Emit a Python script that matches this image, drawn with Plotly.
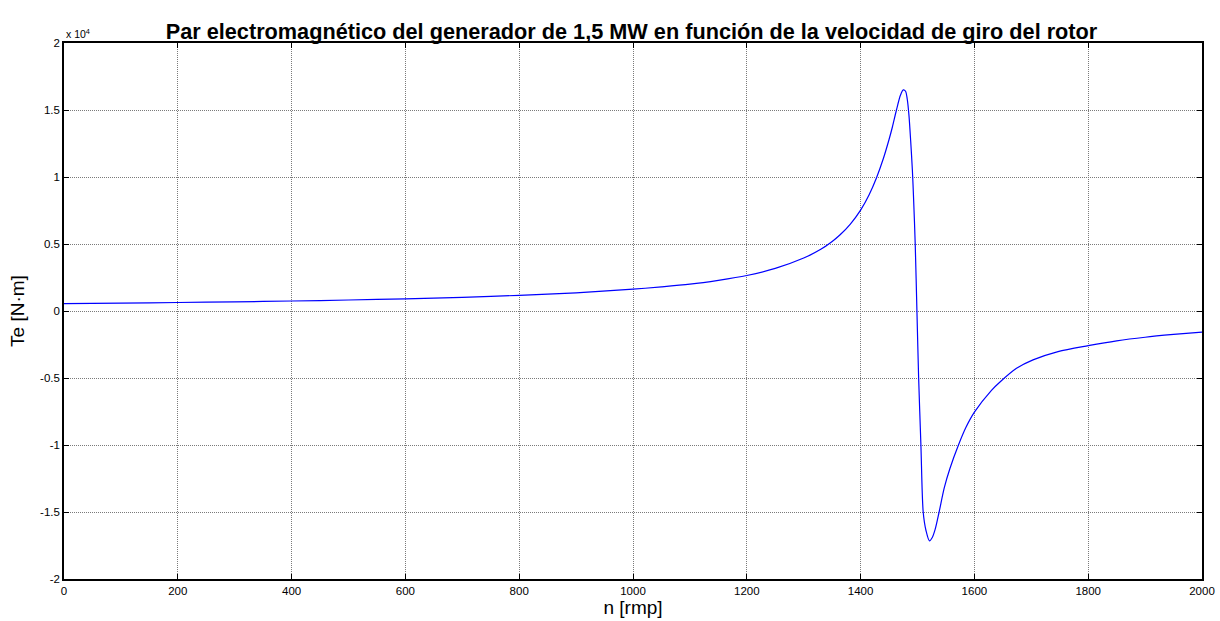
import plotly.graph_objects as go

# Rotor speed (rpm) and electromagnetic torque (N·m) of the 1.5 MW generator
n_rpm = [0, 100, 200, 300, 400, 500, 600, 700, 800, 900, 1000, 1050, 1100, 1150,
         1200, 1250, 1300, 1330, 1350, 1364, 1382, 1400, 1415, 1428, 1440, 1450, 1456,
         1463, 1470, 1475, 1479, 1482, 1485, 1488, 1491, 1493, 1496, 1499, 1502,
         1506, 1510, 1515, 1521, 1526, 1531, 1538, 1547, 1557, 1572, 1585, 1600,
         1630, 1645, 1674, 1703, 1747, 1800, 1850, 1900, 1950, 2000]
te_nm = [550, 590, 635, 685, 745, 820, 910, 1020, 1170, 1360, 1630, 1800, 2000, 2290,
         2650, 3180, 3950, 4600, 5190, 5690, 6490, 7530, 8680, 9950, 11380, 12800, 13750,
         15000, 16100, 16500, 16400, 15800, 14600, 12700, 10500, 8500, 5000, 0, -5000,
         -10000, -15000, -16400, -17150, -16900, -16300, -15000, -13200, -11750, -10000, -8700, -7550,
         -5920, -5300, -4280, -3650, -3030, -2590, -2230, -1960, -1750, -1570]

x_ticks = [0, 200, 400, 600, 800, 1000, 1200, 1400, 1600, 1800, 2000]
y_ticks = [-20000, -15000, -10000, -5000, 0, 5000, 10000, 15000, 20000]
y_tick_text = ["-2", "-1.5", "-1", "-0.5", "0", "0.5", "1", "1.5", "2"]

FONT = "Arial, Liberation Sans, sans-serif"

fig = go.Figure()
fig.add_trace(go.Scatter(
    x=n_rpm, y=te_nm, mode="lines",
    line=dict(color="#0000ff", width=1.2, shape="spline", smoothing=0.8),
    showlegend=False,
))

axis_common = dict(
    showline=True, linecolor="black", linewidth=1.5, mirror="ticks",
    ticks="inside", ticklen=5, tickcolor="black", tickwidth=1,
    showgrid=True, gridcolor="#7a7a7a", gridwidth=1, griddash="1px,1px",
    zeroline=False, automargin=False,
    tickfont=dict(family=FONT, size=11.5, color="black"),
)

fig.update_xaxes(
    range=[0, 2000], tickvals=x_ticks,
    title=dict(text="n [rmp]", font=dict(family=FONT, size=19, color="black"), standoff=0),
    **axis_common,
)
fig.update_yaxes(
    range=[-20000, 20000], tickvals=y_ticks, ticktext=y_tick_text,
    title=dict(text="Te [N·m]", font=dict(family=FONT, size=19, color="black"), standoff=10),
    **axis_common,
)

fig.add_annotation(
    text="x 10<sup>4</sup>", xref="paper", yref="paper", x=0, y=1,
    xanchor="left", yanchor="bottom", showarrow=False, yshift=1,
    font=dict(family=FONT, size=10.5, color="black"),
)

fig.update_layout(
    width=1220, height=621,
    margin=dict(l=64, r=18, t=43, b=42),
    paper_bgcolor="white", plot_bgcolor="white",
    title=dict(
        text="<b>Par electromagnético del generador de 1,5 MW en función de la velocidad de giro del rotor</b>",
        x=(166 + 1097) / 2 / 1220, xanchor="center", y=1 - 31 / 621, yanchor="middle",
        font=dict(family=FONT, size=21.7, color="black"),
    ),
)

fig.write_html("out.html")
